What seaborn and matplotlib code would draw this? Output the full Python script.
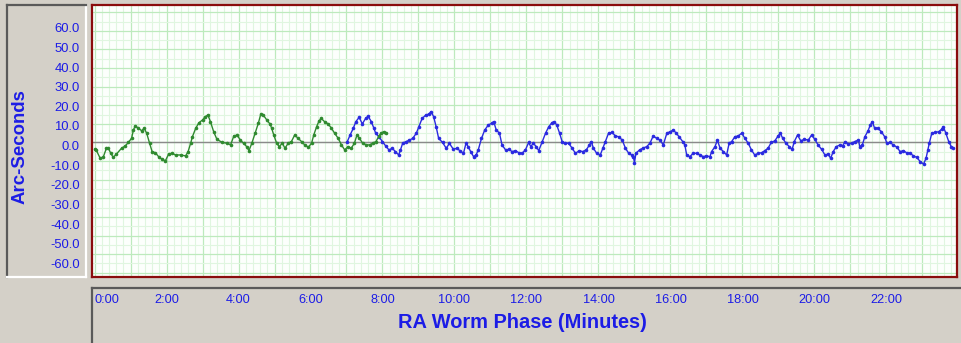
import numpy as np
import matplotlib
matplotlib.use("Agg")
import matplotlib.pyplot as plt
import seaborn as sns
from matplotlib.ticker import FixedLocator, FixedFormatter, MultipleLocator

# RA worm phase (minutes) vs error (arc-seconds)
green_t = [0.00, 0.05, 0.15, 0.24, 0.33, 0.38, 0.45, 0.52, 0.61, 0.75,
           0.85, 0.94, 1.03, 1.08, 1.13, 1.22, 1.31, 1.38, 1.45, 1.53,
           1.60, 1.69, 1.78, 1.88, 1.97, 2.06, 2.15, 2.25, 2.39, 2.53,
           2.60, 2.67, 2.72, 2.81, 2.90, 3.00, 3.08, 3.15, 3.22, 3.31,
           3.40, 3.55, 3.69, 3.78, 3.87, 3.96, 4.05, 4.14, 4.23, 4.29,
           4.37, 4.46, 4.55, 4.62, 4.69, 4.79, 4.88, 4.92, 4.98, 5.06,
           5.13, 5.22, 5.29, 5.38, 5.47, 5.56, 5.66, 5.75, 5.84, 5.94,
           6.03, 6.09, 6.17, 6.24, 6.30, 6.39, 6.49, 6.58, 6.67, 6.77,
           6.86, 6.95, 7.04, 7.13, 7.22, 7.29, 7.36, 7.45, 7.55, 7.64,
           7.73, 7.82, 7.90, 7.96, 8.03, 8.10]
green_v = [-3.7, -4.2, -8.2, -8.0, -3.1, -2.8, -5.8, -8.0, -6.2, -3.1,
           -1.9, 0.0, 2.3, 6.7, 8.9, 7.7, 6.3, 7.7, 4.9, -0.4,
           -4.9, -5.5, -7.6, -9.1, -9.8, -6.2, -5.8, -6.7, -6.7, -7.2,
           -4.9, -0.4, 3.1, 7.6, 10.6, 12.1, 13.9, 14.8, 11.2, 5.8,
           1.7, 0.0, -0.4, -1.3, 3.5, 4.0, 1.3, -0.4, -2.3, -4.4,
           -0.4, 4.9, 10.3, 15.3, 14.7, 12.0, 9.8, 7.7, 4.0, -0.4,
           -2.2, -0.4, -3.1, -0.4, 0.5, 4.0, 2.2, 0.5, -1.3, -2.5,
           -0.4, 4.0, 8.5, 11.7, 12.9, 11.2, 10.0, 7.7, 5.0, 2.2,
           -1.3, -4.0, -2.2, -3.1, -0.4, 4.0, 2.2, -0.4, -1.3, -1.3,
           -0.4, 0.5, 3.5, 5.0, 5.8, 5.0]

blue_t = [7.02, 7.10, 7.19, 7.26, 7.35, 7.44, 7.53, 7.60, 7.69, 7.76,
          7.81, 7.90, 8.00, 8.09, 8.18, 8.27, 8.36, 8.45, 8.50, 8.56,
          8.66, 8.75, 8.84, 8.94, 9.01, 9.10, 9.20, 9.29, 9.35, 9.42,
          9.49, 9.56, 9.67, 9.77, 9.86, 9.97, 10.06, 10.15, 10.25, 10.32,
          10.38, 10.45, 10.53, 10.60, 10.66, 10.75, 10.84, 10.94, 11.03, 11.09,
          11.16, 11.25, 11.32, 11.42, 11.51, 11.60, 11.69, 11.79, 11.88, 11.97,
          12.06, 12.12, 12.19, 12.27, 12.34, 12.44, 12.53, 12.62, 12.71, 12.77,
          12.84, 12.92, 12.99, 13.08, 13.17, 13.27, 13.36, 13.47, 13.56, 13.66,
          13.75, 13.80, 13.86, 13.95, 14.05, 14.12, 14.19, 14.28, 14.38, 14.47,
          14.56, 14.66, 14.75, 14.84, 14.92, 14.97, 15.00, 15.04, 15.14, 15.23,
          15.34, 15.43, 15.52, 15.62, 15.71, 15.80, 15.90, 15.99, 16.08, 16.16,
          16.24, 16.34, 16.40, 16.45, 16.54, 16.63, 16.73, 16.82, 16.91, 17.00,
          17.10, 17.14, 17.24, 17.30, 17.38, 17.47, 17.56, 17.63, 17.70, 17.79,
          17.88, 17.98, 18.07, 18.16, 18.25, 18.34, 18.44, 18.53, 18.62, 18.71,
          18.80, 18.90, 18.99, 19.05, 19.12, 19.21, 19.30, 19.38, 19.44, 19.53,
          19.62, 19.72, 19.83, 19.92, 20.01, 20.10, 20.20, 20.29, 20.38, 20.45,
          20.52, 20.61, 20.71, 20.78, 20.85, 20.94, 21.03, 21.12, 21.22, 21.26,
          21.33, 21.40, 21.49, 21.55, 21.61, 21.67, 21.76, 21.86, 21.95, 22.01,
          22.10, 22.19, 22.29, 22.38, 22.47, 22.56, 22.66, 22.75, 22.84, 22.94,
          23.03, 23.10, 23.15, 23.19, 23.26, 23.36, 23.45, 23.54, 23.58, 23.65,
          23.73, 23.80, 23.86]
blue_v = [0.4, 4.0, 7.7, 11.2, 13.5, 10.0, 12.9, 14.1, 11.2, 7.7,
          5.0, 3.1, 0.5, -1.9, -4.0, -3.1, -4.9, -6.7, -4.0, -0.4,
          0.5, 1.3, 2.2, 5.0, 8.5, 12.9, 14.7, 15.3, 16.6, 13.9,
          8.5, 2.2, 0.0, -3.1, -0.5, -3.7, -3.1, -4.4, -5.8, -0.4,
          -2.2, -4.9, -7.6, -6.7, -4.0, 2.2, 6.7, 9.4, 10.3, 11.2,
          6.7, 5.0, -1.3, -4.0, -3.7, -4.9, -4.4, -5.5, -5.8, -4.0,
          0.0, -2.2, -0.4, -2.2, -4.4, 0.5, 5.0, 8.5, 10.7, 11.2,
          9.4, 5.0, 0.5, -0.4, -0.4, -3.1, -5.8, -4.4, -4.9, -4.0,
          -1.3, 0.5, -3.1, -5.8, -6.7, -3.1, 0.5, 5.0, 5.4, 3.5,
          3.1, 1.3, -3.1, -5.8, -6.7, -7.6, -10.8, -5.8, -4.0, -3.1,
          -2.2, -0.4, 3.5, 2.2, 1.3, -1.3, 5.0, 5.8, 6.7, 5.0,
          3.1, 0.5, -1.3, -6.7, -7.6, -5.8, -5.8, -6.7, -7.6, -7.2,
          -7.6, -4.9, -2.2, 1.3, -3.1, -4.9, -6.7, -0.4, 0.5, 3.1,
          3.5, 5.0, 2.2, -0.4, -4.0, -6.7, -5.8, -5.5, -4.4, -3.1,
          0.0, 0.9, 3.5, 5.0, 2.2, -0.4, -2.2, -3.7, 0.5, 4.0,
          0.9, 1.7, 1.3, 4.0, 1.7, -1.3, -3.7, -6.7, -6.2, -8.5,
          -4.9, -2.2, -1.3, -1.9, 0.5, -0.8, -0.4, 0.5, 1.3, -2.2,
          -1.3, 3.1, 6.3, 9.4, 11.2, 7.7, 7.7, 5.8, 3.1, -0.4,
          0.0, -1.3, -2.5, -4.9, -4.4, -5.5, -5.8, -7.2, -8.0, -10.3,
          -11.6, -8.5, -4.0, -0.4, 5.0, 5.4, 5.8, 7.2, 8.5, 5.0,
          0.5, -2.2, -3.1]

x_ticks = list(range(0, 24))
x_tick_labels = [f"{m}:00" if m % 2 == 0 else "" for m in x_ticks]
y_ticks = [60, 50, 40, 30, 20, 10, 0, -10, -20, -30, -40, -50, -60]
y_tick_labels = [f"{v:.1f}" for v in y_ticks]

sns.set_style("white")
plt.rcParams["font.family"] = ["Liberation Sans", "DejaVu Sans"]

W, H = 961, 343
BG = "#d4d0c8"
BLUE_TXT = "#1c1ce6"
fig = plt.figure(figsize=(W / 100, H / 100), dpi=100, facecolor=BG)


def px_rect(x0, y0, x1, y1):
    return [x0 / W, 1 - y1 / H, (x1 - x0) / W, (y1 - y0) / H]


def sunken(ax, dark="#5a5a5a", light="#ffffff"):
    ax.set_facecolor(BG)
    for side, col in [("left", dark), ("top", dark), ("right", light), ("bottom", light)]:
        ax.spines[side].set_visible(True)
        ax.spines[side].set_color(col)
        ax.spines[side].set_linewidth(1.6)


# left label panel
ax_lab = fig.add_axes(px_rect(7, 5, 86, 277))
sunken(ax_lab)
ax_lab.set_xticks([])
ax_lab.set_ylim(-67.0, 71.6)
ax_lab.yaxis.tick_right()
ax_lab.set_yticks(y_ticks)
ax_lab.set_yticklabels(y_tick_labels)
ax_lab.tick_params(axis="y", length=0, pad=-4.5, labelsize=9.4, labelcolor=BLUE_TXT)
for t in ax_lab.get_yticklabels():
    t.set_ha("right")
ax_lab.yaxis.set_label_position("left")
ax_lab.set_ylabel("Arc-Seconds", fontsize=13.4, fontweight="bold", color=BLUE_TXT)
ax_lab.yaxis.label.set_va("center")
ax_lab.yaxis.set_label_coords(0.17, 0.48)

# bottom label panel
ax_bot = fig.add_axes(px_rect(92, 288, 963, 345))
sunken(ax_bot)
ax_bot.set_xticks([])
ax_bot.set_yticks([])

# main plot
ax = fig.add_axes(px_rect(92, 5, 957, 277))
ax.set_facecolor("#fcfffc")
ax.set_xlim(-0.07, 23.96)
ax.set_ylim(-72.3, 73.9)

ax.xaxis.set_major_locator(FixedLocator(x_ticks))
ax.xaxis.set_major_formatter(FixedFormatter(x_tick_labels))
ax.xaxis.set_minor_locator(MultipleLocator(0.2))
ax.yaxis.set_major_locator(MultipleLocator(10))
ax.yaxis.set_minor_locator(MultipleLocator(5))
ax.grid(which="major", color="#bdeabd", linewidth=0.9)
ax.grid(which="minor", color="#e0f6e0", linewidth=0.8)
ax.set_axisbelow(True)
ax.tick_params(axis="y", which="both", left=False, labelleft=False)
ax.tick_params(axis="x", which="both", length=0)
ax.tick_params(axis="x", pad=12, labelsize=9.2, labelcolor=BLUE_TXT)
ax.xaxis.get_major_ticks()[0].label1.set_ha("left")

ax.axhline(0, color="#8a8a8a", linewidth=1.0, zorder=1)

sns.lineplot(x=green_t, y=green_v, ax=ax, color="#2f8a2f", linewidth=1.0,
             marker="o", markersize=2.6, markeredgewidth=0, sort=False,
             estimator=None, zorder=3)
sns.lineplot(x=blue_t, y=blue_v, ax=ax, color="#2a2ae0", linewidth=1.0,
             marker="o", markersize=2.6, markeredgewidth=0, sort=False,
             estimator=None, zorder=2)

for side in ["left", "right", "top", "bottom"]:
    ax.spines[side].set_visible(True)
    ax.spines[side].set_color("#8a0c0c")
    ax.spines[side].set_linewidth(1.6)

ax.set_ylabel("")
ax.set_xlabel("RA Worm Phase (Minutes)", fontsize=14.4, fontweight="bold", color=BLUE_TXT)
ax.xaxis.label.set_va("center")
ax.xaxis.set_label_coords(0.4977, -0.169)

fig.savefig("out.png", dpi=100, facecolor=BG)
